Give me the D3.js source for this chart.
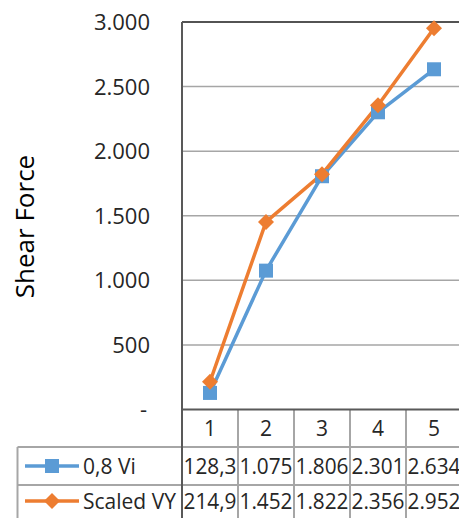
<!DOCTYPE html>
<html><head><meta charset="utf-8">
<script src="https://cdn.jsdelivr.net/npm/d3@7"></script>
<style>html,body{margin:0;padding:0;background:#fff;overflow:hidden}svg{display:block}</style>
</head><body>
<script>
const categories = ["1","2","3","4","5"];
const seriesNames = ["0,8 Vi","Scaled VY"];
const viValues = [128.3, 1075, 1806, 2301, 2634];
const vyValues = [214.9, 1452, 1822, 2356, 2952];
const viLabels = ["128,3","1.075","1.806","2.301","2.634"];
const vyLabels = ["214,9","1.452","1.822","2.356","2.952"];
const yTicks = [0, 500, 1000, 1500, 2000, 2500, 3000];
const yTickLabels = ["-","500","1.000","1.500","2.000","2.500","3.000"];

(function () {
const W = 459, H = 518;
const font = "'Open Sans', 'Noto Sans', sans-serif";
const blue = "#5B9BD5", orange = "#ED7D31";
const svg = d3.select("body").append("svg").attr("width", W).attr("height", H);

const pL = 182, pR = 462, pT = 22, pB = 409.5;
const x = d3.scaleBand().domain(categories).range([pL, pR]).padding(0);
const y = d3.scaleLinear().domain([0, 3000]).range([pB, pT]);

// gridlines
svg.append("g").selectAll("line").data(yTicks.slice(1, -1)).join("line")
  .attr("x1", pL).attr("x2", W).attr("y1", d => y(d)).attr("y2", d => y(d))
  .attr("stroke", "#a6a6a6").attr("stroke-width", 1.5);
svg.append("line").attr("x1", pL).attr("x2", W).attr("y1", y(3000)).attr("y2", y(3000))
  .attr("stroke", "#1a1a1a").attr("stroke-width", 1.5);

// y tick labels
svg.append("g").selectAll("text").data(yTicks).join("text")
  .attr("x", 150).attr("y", d => y(d)).attr("dy", "0.36em")
  .attr("text-anchor", "end").attr("font-family", font).attr("font-size", 22)
  .attr("fill", "#262626")
  .attr("dx", (d, i) => i === 0 ? -3 : 0)
  .text((d, i) => yTickLabels[i]);

// y title
svg.append("text").attr("transform", `translate(34,${(153+300)/2}) rotate(-90)`)
  .attr("text-anchor", "middle").attr("font-family", font).attr("font-size", 26)
  .attr("fill", "#000").text("Shear Force");

// table
const rowTop = [pB, 447, 485, 523];
const tableGrey = "#a6a6a6";
const tg = svg.append("g");
const bounds = categories.map(c => x(c)).concat([x(categories[4]) + x.bandwidth()]);
bounds.forEach(bx => {
  tg.append("line").attr("x1", bx).attr("x2", bx).attr("y1", pB).attr("y2", H)
    .attr("stroke", tableGrey).attr("stroke-width", 2);
});
tg.append("line").attr("x1", 17.5).attr("x2", 17.5).attr("y1", rowTop[1]).attr("y2", H)
  .attr("stroke", tableGrey).attr("stroke-width", 2);
[rowTop[1], rowTop[2]].forEach(ry => {
  tg.append("line").attr("x1", 17.5).attr("x2", W).attr("y1", ry).attr("y2", ry)
    .attr("stroke", tableGrey).attr("stroke-width", 2);
});
tg.selectAll("text.cat").data(categories).join("text").attr("class", "cat")
  .attr("x", d => x(d) + x.bandwidth() / 2).attr("y", (rowTop[0] + rowTop[1]) / 2).attr("dy", "0.36em")
  .attr("text-anchor", "middle").attr("font-family", font).attr("font-size", 21).attr("fill", "#262626")
  .text(d => d);
[viLabels, vyLabels].forEach((labels, r) => {
  tg.selectAll("text.v" + r).data(categories).join("text").attr("class", "v" + r)
    .attr("x", d => x(d) + x.bandwidth() / 2).attr("y", (rowTop[r + 1] + rowTop[r + 2]) / 2 - (r === 1 ? 3 : 0)).attr("dy", "0.36em")
    .attr("text-anchor", "middle").attr("font-family", font).attr("font-size", 21).attr("fill", "#262626")
    .attr("textLength", 53).attr("lengthAdjust", "spacingAndGlyphs")
    .text((d, i) => labels[i]);
});

// axes lines
svg.append("line").attr("x1", pL).attr("x2", pL).attr("y1", pT).attr("y2", H)
  .attr("stroke", "#595959").attr("stroke-width", 2);
svg.append("line").attr("x1", pL).attr("x2", W).attr("y1", pB).attr("y2", pB)
  .attr("stroke", "#595959").attr("stroke-width", 2);

// series
const line = d3.line().x((d, i) => x(categories[i]) + x.bandwidth() / 2).y(d => y(d));
const seriesList = [{vals: viValues, color: blue, shape: "square"}, {vals: vyValues, color: orange, shape: "diamond"}];
seriesList.forEach(s => {
  svg.append("path").datum(s.vals).attr("d", line).attr("fill", "none")
    .attr("stroke", s.color).attr("stroke-width", 3.5).attr("stroke-linejoin", "round");
});
function drawMarker(g, cx, cy, s) {
  if (s.shape === "square") {
    g.append("rect").attr("x", cx - 7).attr("y", cy - 7).attr("width", 14).attr("height", 14).attr("fill", s.color);
  } else {
    g.append("path").attr("d", `M${cx},${cy-8} L${cx+8},${cy} L${cx},${cy+8} L${cx-8},${cy} Z`).attr("fill", s.color);
  }
}
seriesList.forEach(s => {
  const g = svg.append("g");
  s.vals.forEach((v, i) => drawMarker(g, x(categories[i]) + x.bandwidth() / 2, y(v), s));
});

// legend keys in table
seriesList.forEach((s, r) => {
  const cy = (rowTop[r + 1] + rowTop[r + 2]) / 2 - (r === 1 ? 3 : 0);
  svg.append("line").attr("x1", 25).attr("x2", 79).attr("y1", cy).attr("y2", cy)
    .attr("stroke", s.color).attr("stroke-width", 3.5);
  drawMarker(svg, 52, cy, s);
  svg.append("text").attr("x", 83).attr("y", cy).attr("dy", "0.36em")
    .attr("font-family", font).attr("font-size", 21).attr("fill", "#262626").text(seriesNames[r]);
});
})();
</script>
</body></html>
